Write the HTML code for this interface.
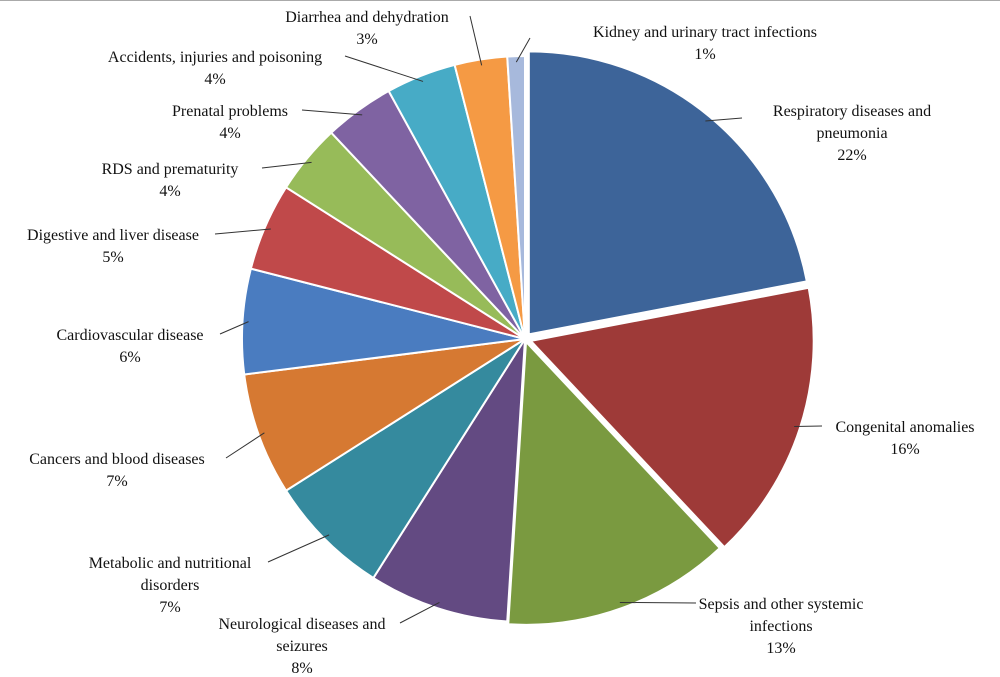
<!DOCTYPE html>
<html><head><meta charset="utf-8"><style>
html,body{margin:0;padding:0;background:#fff;}
svg{display:block;}
text{font-family:"Liberation Serif",serif;font-size:16px;fill:#111;text-anchor:middle;}
</style></head><body>
<svg id="chart" width="1000" height="677" viewBox="0 0 1000 677">
<rect x="0" y="0" width="1000" height="677" fill="#fff"/>
<line x1="0" y1="0.5" x2="1000" y2="0.5" stroke="#aaa" stroke-width="1"/>
<g id="slices"></g><g id="leaders"></g><g id="labels"></g>
</svg>
<script>
const categories = ["Respiratory diseases and|pneumonia","Congenital anomalies","Sepsis and other systemic|infections","Neurological diseases and|seizures","Metabolic and nutritional|disorders","Cancers and blood diseases","Cardiovascular disease","Digestive and liver disease","RDS and prematurity","Prenatal problems","Accidents, injuries and poisoning","Diarrhea and dehydration","Kidney and urinary tract infections"];
const values = [22,16,13,8,7,7,6,5,4,4,4,3,1];
const pctLabels = ["22%","16%","13%","8%","7%","7%","6%","5%","4%","4%","4%","3%","1%"];
const colors = ["#3d6499","#9e3a38","#7a9a40","#634a82","#358a9e","#d67932","#4a7cc0","#c0494a","#97bb59","#7f63a2","#47abc6","#f59a44","#a7b9dc"];
// label layout (center x, first line y) and leader end points
const labelPos = [[852,116],[905,432],[781,609],[302,629],[170,568],[117,464],[130,340],[113,240],[170,174],[230,116],[215,62],[367,22],[705,37]];
const leaderEnd = [[742,118],[822,426],[696,603],[400,623],[268,562],[226,458],[220,334],[215,234],[262,168],[302,110],[345,56],[470,16],[530,38]];
const explode = [6,6,3,0,0,0,0,0,0,0,0,0,0];
const cx=525, cy=339, R=283;
const NS="http://www.w3.org/2000/svg";
const total = values.reduce((a,b)=>a+b,0);
const gS=document.getElementById('slices'), gL=document.getElementById('leaders'), gT=document.getElementById('labels');
let acc=0;
function pt(a,r,ox,oy){return [ox+r*Math.sin(a), oy-r*Math.cos(a)];}
values.forEach((v,i)=>{
  const a0=acc/total*2*Math.PI; acc+=v; const a1=acc/total*2*Math.PI;
  const am=(a0+a1)/2;
  const ox=cx+explode[i]*Math.sin(am), oy=cy-explode[i]*Math.cos(am);
  const p0=pt(a0,R,ox,oy), p1=pt(a1,R,ox,oy);
  const large=(a1-a0)>Math.PI?1:0;
  const p=document.createElementNS(NS,'path');
  p.setAttribute('d',`M${ox},${oy} L${p0[0]},${p0[1]} A${R},${R} 0 ${large} 1 ${p1[0]},${p1[1]} Z`);
  p.setAttribute('fill',colors[i]); p.setAttribute('stroke','#fff'); p.setAttribute('stroke-width','2');
  
  
  gS.appendChild(p);
  const e=pt(am,R-6,ox,oy), le=leaderEnd[i];
  const l=document.createElementNS(NS,'polyline');
  l.setAttribute('points',`${e[0]},${e[1]} ${le[0]},${le[1]}`);
  l.setAttribute('fill','none'); l.setAttribute('stroke','#333'); l.setAttribute('stroke-width','1');
  
  
  gL.appendChild(l);
  const lines=categories[i].split('|').concat([pctLabels[i]]);
  const t=document.createElementNS(NS,'text');
  
  
  lines.forEach((s,k)=>{
    const ts=document.createElementNS(NS,'tspan');
    ts.setAttribute('x',labelPos[i][0]); ts.setAttribute('y',labelPos[i][1]+k*22);
    ts.textContent=s; t.appendChild(ts);
  });
  gT.appendChild(t);
});
</script>
</body></html>
